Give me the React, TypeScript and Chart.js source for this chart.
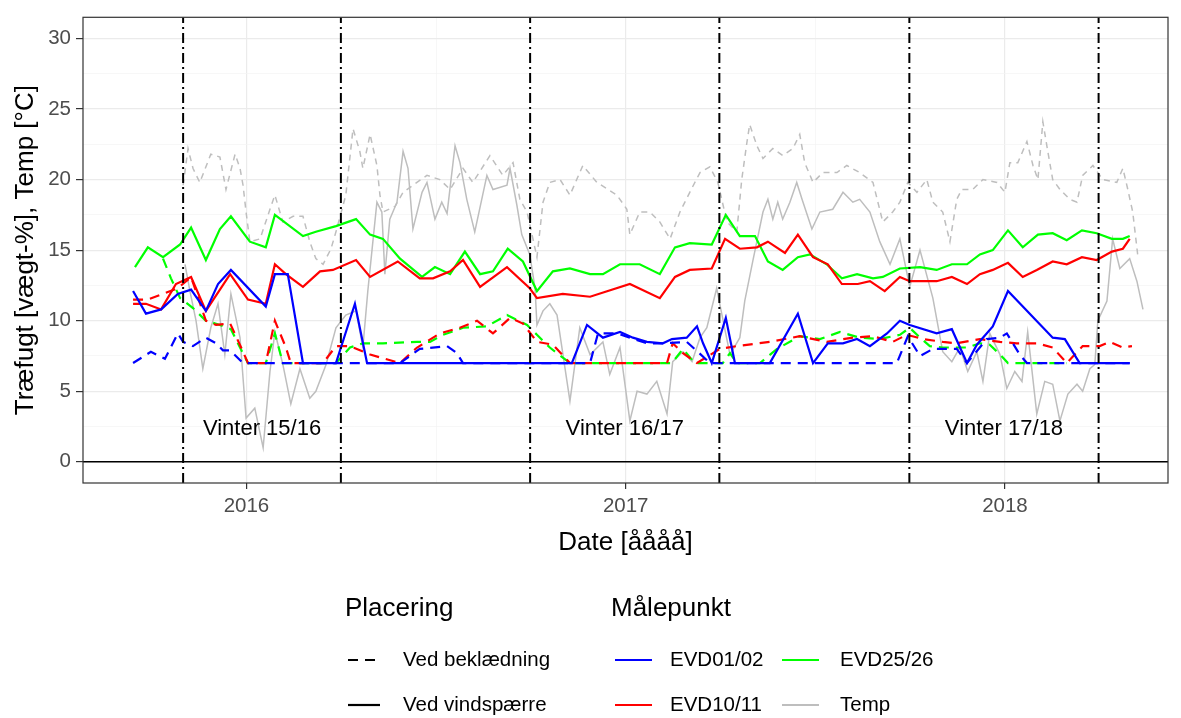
import React, { useEffect, useRef } from 'react';
import { Chart, registerables } from 'chart.js';

Chart.register(...registerables);

const FONT = '"Liberation Sans", Arial, Helvetica, sans-serif';

// ---------- axis / annotation data ----------
const xMin = 2015.569;
const xMax = 2018.43;
const yMin = -1.5;
const yMax = 31.5;
const xMajorTicks = [2016, 2017, 2018];
const xMinorTicks = [2016.5, 2017.5];
const yMajorTicks = [0, 5, 10, 15, 20, 25, 30];
const yMinorTicks = [2.5, 7.5, 12.5, 17.5, 22.5, 27.5];

const winterStart = [2015.833, 2016.748, 2017.748];
const winterEnd = [2016.249, 2017.247, 2018.247];
const winterLabels = ['Vinter 15/16', 'Vinter 16/17', 'Vinter 17/18'];
const winterLabelY = 2.3;

const xTitle = 'Date [åååå]';
const yTitle = 'Træfugt [vægt-%], Temp [°C]';
const placeringTitle = 'Placering';
const placeringLabels = ['Ved beklædning', 'Ved vindspærre'];
const maalepunktTitle = 'Målepunkt';
const maalepunktLabels = ['EVD01/02', 'EVD10/11', 'EVD25/26', 'Temp'];
const maalepunktColors = ['#0000FF', '#FF0000', '#00FF00', '#BEBEBE'];

// ---------- series data (decimal year, value) ----------
// EVD01/02 - Ved vindspærre
const evd0102VindX = [2015.701, 2015.735, 2015.775, 2015.819, 2015.854, 2015.893, 2015.925, 2015.959, 2016.051, 2016.075,
  2016.109, 2016.149, 2016.236, 2016.286, 2016.318, 2016.858, 2016.898, 2016.940, 2016.985, 2017.019,
  2017.056, 2017.098, 2017.122, 2017.161, 2017.188, 2017.204, 2017.227, 2017.264, 2017.288, 2017.380,
  2017.454, 2017.494, 2017.533, 2017.573, 2017.610, 2017.644, 2017.689, 2017.723, 2017.749, 2017.820,
  2017.860, 2017.900, 2017.926, 2017.968, 2018.008, 2018.126, 2018.158, 2018.197, 2018.329];
const evd0102VindY = [12.1, 10.5, 10.8, 11.9, 12.2, 10.7, 12.6, 13.6, 11.0, 13.3,
  13.3, 7, 7, 11.2, 7, 7, 9.7, 8.8, 9.2, 8.8,
  8.5, 8.4, 8.7, 8.8, 9.6, 8.4, 7, 10.2, 7, 7,
  10.5, 7, 8.4, 8.4, 8.7, 8.2, 9.1, 10.0, 9.7, 9.1,
  9.4, 7, 8.3, 9.6, 12.1, 8.8, 8.7, 7, 7];

// EVD01/02 - Ved beklædning
const evd0102BeklX = [2015.701, 2015.748, 2015.785, 2015.819, 2015.833, 2015.859, 2015.893, 2015.920, 2015.938, 2015.957,
  2015.991, 2016.405, 2016.457, 2016.529, 2016.555, 2016.571, 2016.906, 2016.927, 2016.977, 2017.011,
  2017.056, 2017.098, 2017.161, 2017.190, 2017.222, 2017.715, 2017.744, 2017.776, 2017.810, 2017.873,
  2017.900, 2017.952, 2017.987, 2018.005, 2018.039, 2018.058, 2018.329];
const evd0102BeklY = [7, 7.8, 7.3, 9.1, 8.5, 8.2, 8.8, 8.4, 7.9, 7.9,
  7, 7, 8.0, 8.2, 7.7, 7, 7, 9.1, 9.1, 8.8,
  8.4, 8.4, 8.5, 7.8, 7, 7, 8.9, 7.5, 8.0, 8.0,
  7, 8.7, 8.8, 9.1, 7.6, 7, 7];

// EVD10/11 - Ved vindspærre
const evd1011VindX = [2015.701, 2015.735, 2015.775, 2015.814, 2015.854, 2015.893, 2015.957,
  2016.004, 2016.051, 2016.075, 2016.104, 2016.149, 2016.194, 2016.228, 2016.289, 2016.326, 2016.399,
  2016.457, 2016.492, 2016.537, 2016.571, 2016.616, 2016.687, 2016.747, 2016.766, 2016.834, 2016.906,
  2017.011, 2017.090, 2017.130, 2017.169, 2017.227, 2017.262, 2017.301, 2017.346, 2017.375, 2017.420,
  2017.454, 2017.494, 2017.533, 2017.570, 2017.612, 2017.644, 2017.683, 2017.723, 2017.749, 2017.820,
  2017.860, 2017.900, 2017.934, 2017.968,
  2018.008, 2018.047, 2018.084, 2018.126, 2018.163, 2018.203, 2018.242, 2018.282, 2018.311, 2018.329];
const evd1011VindY = [11.2, 11.2, 10.8, 12.6, 13.1, 10.7, 13.3,
  11.5, 11.2, 14.0, 13.3, 12.4, 13.5, 13.6, 14.3, 13.1, 14.2,
  13.0, 13.0, 13.5, 14.3, 12.4, 13.8, 12.3, 11.6, 11.9, 11.7,
  12.6, 11.6, 13.1, 13.6, 13.7, 15.8, 15.1, 15.2, 15.6, 14.8,
  16.1, 14.5, 14.0, 12.6, 12.6, 12.8, 12.1, 13.1, 12.8, 12.8,
  13.1, 12.6, 13.3, 13.6,
  14.1, 13.1, 13.6, 14.2, 14.0, 14.5, 14.3, 14.9, 15.1, 15.8];

// EVD10/11 - Ved beklædning
const evd1011BeklX = [2015.701, 2015.740, 2015.780, 2015.819, 2015.854, 2015.893, 2015.920, 2015.957, 2015.986,
  2016.004, 2016.051, 2016.075, 2016.104, 2016.117, 2016.202, 2016.236, 2016.273, 2016.326, 2016.405,
  2016.450, 2016.510, 2016.563, 2016.608, 2016.650, 2016.695, 2016.729, 2016.766, 2016.808, 2016.853,
  2017.109, 2017.124, 2017.151, 2017.188, 2017.248, 2017.293, 2017.380, 2017.459, 2017.530, 2017.599,
  2017.652, 2017.704, 2017.741, 2017.784, 2017.836, 2017.873, 2017.934, 2017.987,
  2018.031, 2018.084, 2018.126, 2018.163, 2018.205, 2018.250, 2018.277, 2018.311, 2018.335];
const evd1011BeklY = [11.5, 11.5, 11.9, 12.3, 13.1, 10.0, 9.7, 9.8, 8.1,
  7, 7, 10.0, 8.1, 7, 7, 8.2, 8.2, 7.6, 7,
  8.1, 9.1, 9.5, 10.0, 9.1, 10.2, 9.8, 8.5, 8.3, 7,
  7, 8.4, 7.7, 7, 8.0, 8.2, 8.5, 8.9, 8.5, 8.8,
  8.9, 8.5, 9.0, 8.7, 8.5, 8.4, 8.7, 8.5,
  8.4, 8.4, 8.1, 7, 8.2, 8.2, 8.5, 8.1, 8.2];

// EVD25/26 - Ved vindspærre
const evd2526VindX = [2015.706, 2015.740, 2015.780, 2015.825, 2015.854, 2015.893, 2015.930, 2015.959,
  2016.009, 2016.051, 2016.075, 2016.149, 2016.183, 2016.236, 2016.289, 2016.326, 2016.360, 2016.405,
  2016.463, 2016.497, 2016.537, 2016.576, 2016.616, 2016.650, 2016.689, 2016.729, 2016.766, 2016.808,
  2016.853, 2016.906, 2016.940, 2016.985,
  2017.037, 2017.090, 2017.130, 2017.169, 2017.227, 2017.264, 2017.301, 2017.341, 2017.375, 2017.414,
  2017.454, 2017.486, 2017.530, 2017.570, 2017.610, 2017.652, 2017.678, 2017.723, 2017.776, 2017.820,
  2017.860, 2017.900, 2017.934, 2017.968,
  2018.008, 2018.047, 2018.087, 2018.126, 2018.163, 2018.203, 2018.242, 2018.282, 2018.311, 2018.329];
const evd2526VindY = [13.8, 15.2, 14.5, 15.4, 16.6, 14.3, 16.5, 17.4,
  15.6, 15.2, 17.5, 16.0, 16.3, 16.7, 17.2, 16.1, 15.8, 14.4,
  13.1, 13.8, 13.3, 14.9, 13.3, 13.5, 15.1, 14.2, 12.1, 13.5,
  13.7, 13.3, 13.3, 14.0,
  14.0, 13.3, 15.2, 15.5, 15.4, 17.5, 16.0, 16.0, 14.2, 13.6,
  14.5, 14.7, 14.0, 13.0, 13.3, 13.0, 13.1, 13.7, 13.8, 13.6,
  14.0, 14.0, 14.7, 15.0,
  16.4, 15.2, 16.1, 16.2, 15.7, 16.4, 16.2, 15.8, 15.8, 16.0];

// EVD25/26 - Ved beklædning
const evd2526BeklX = [2015.780, 2015.801, 2015.825, 2015.859, 2015.893, 2015.930, 2015.959, 2015.983,
  2016.004, 2016.051, 2016.075, 2016.096, 2016.236, 2016.273, 2016.307, 2016.360, 2016.450,
  2016.484, 2016.518, 2016.571, 2016.634, 2016.687, 2016.740, 2016.766, 2016.800, 2016.853,
  2017.122, 2017.151, 2017.182, 2017.256, 2017.275, 2017.293, 2017.354, 2017.399, 2017.459, 2017.512,
  2017.565, 2017.617, 2017.670, 2017.723, 2017.749, 2017.776, 2017.802, 2017.836, 2017.900, 2017.934,
  2017.960, 2017.987, 2018.008, 2018.163];
const evd2526BeklY = [14.4, 13.0, 11.6, 10.9, 10.0, 9.7, 9.4, 8.1,
  7, 7, 9.1, 7, 7, 8.1, 8.4, 8.4, 8.5,
  8.5, 9.0, 9.5, 9.6, 10.4, 9.7, 9.0, 8.1, 7,
  7, 8.0, 7, 7, 7.7, 7, 7, 8.0, 8.9, 8.7,
  9.2, 8.8, 8.7, 9.0, 9.5, 8.8, 8.2, 8.1, 8.1, 8.4,
  8.3, 7.6, 7, 7];

// Temp - Ved vindspærre
const tempVindX = [2015.838, 2015.851, 2015.867, 2015.885, 2015.906, 2015.925, 2015.943, 2015.959, 2015.983, 2015.999,
  2016.022, 2016.044, 2016.062, 2016.075, 2016.096, 2016.117, 2016.141, 2016.167, 2016.183, 2016.210,
  2016.236, 2016.262, 2016.289, 2016.307, 2016.320, 2016.344, 2016.357, 2016.365, 2016.378, 2016.397,
  2016.413, 2016.426, 2016.439, 2016.463, 2016.476, 2016.497, 2016.515, 2016.529, 2016.550, 2016.563,
  2016.581, 2016.602, 2016.634, 2016.650, 2016.687, 2016.695, 2016.713, 2016.726, 2016.747, 2016.761,
  2016.766, 2016.782, 2016.800, 2016.819, 2016.853, 2016.879, 2016.906, 2016.940, 2016.958, 2016.985,
  2017.011, 2017.030, 2017.056, 2017.082, 2017.109, 2017.124, 2017.151, 2017.175, 2017.196, 2017.214,
  2017.240, 2017.248, 2017.275, 2017.301, 2017.314, 2017.335, 2017.362, 2017.375, 2017.388, 2017.401,
  2017.414, 2017.433, 2017.451, 2017.465, 2017.491, 2017.512, 2017.546, 2017.573, 2017.599, 2017.617,
  2017.644, 2017.670, 2017.697, 2017.723, 2017.749, 2017.776, 2017.810, 2017.836, 2017.860, 2017.881,
  2017.902, 2017.926, 2017.942, 2017.960, 2017.987, 2018.005, 2018.026, 2018.045, 2018.060, 2018.084,
  2018.105, 2018.126, 2018.145, 2018.166, 2018.190, 2018.205, 2018.224, 2018.237, 2018.245, 2018.269,
  2018.284, 2018.303, 2018.329, 2018.348, 2018.364];
const tempVindY = [14.0, 12.1, 10.0, 6.6, 9.5, 11.2, 7.6, 11.9, 8.8, 3.1,
  3.8, 1.0, 6.4, 9.2, 6.9, 4.1, 6.6, 4.5, 5.0, 6.9,
  9.5, 10.4, 10.7, 8.1, 12.1, 18.4, 17.7, 13.3, 17.2, 18.4,
  22.0, 20.8, 16.5, 19.1, 19.8, 17.2, 18.4, 17.6, 22.4, 21.2,
  18.6, 16.3, 20.3, 19.3, 19.6, 20.8, 18.2, 16.1, 14.7, 12.3,
  9.7, 10.7, 11.2, 10.4, 4.3, 9.5, 7.6, 8.5, 6.2, 8.1,
  2.9, 5.0, 4.8, 5.7, 3.4, 7.1, 7.8, 7.1, 8.8, 9.5,
  12.3, 11.2, 7.6, 8.8, 11.4, 14.2, 17.7, 18.6, 17.2, 18.4,
  17.2, 18.4, 19.8, 18.6, 16.5, 17.7, 17.9, 19.1, 18.4, 18.6,
  17.7, 15.6, 14.0, 15.8, 12.4, 15.0, 11.6, 7.8, 7.1, 8.1,
  6.4, 7.8, 5.7, 9.1, 7.6, 5.2, 6.4, 5.7, 9.2, 3.4,
  5.7, 5.5, 2.9, 4.8, 5.5, 5.0, 6.6, 6.9, 10.0, 11.4,
  15.8, 13.7, 14.4, 12.8, 10.8];

// Temp - Ved beklædning
const tempBeklX = [2015.833, 2015.846, 2015.859, 2015.877, 2015.906, 2015.930, 2015.946, 2015.970, 2015.983, 2015.991,
  2015.999, 2016.009, 2016.036, 2016.062, 2016.075, 2016.096, 2016.123, 2016.149, 2016.167, 2016.183,
  2016.202, 2016.223, 2016.236, 2016.262, 2016.281, 2016.299, 2016.307, 2016.326, 2016.344, 2016.352,
  2016.360, 2016.392, 2016.413, 2016.439, 2016.476, 2016.510, 2016.537, 2016.571, 2016.597, 2016.642,
  2016.676, 2016.703, 2016.721, 2016.740, 2016.766, 2016.782, 2016.800, 2016.827, 2016.853, 2016.887,
  2016.924, 2016.977, 2017.003, 2017.011, 2017.037, 2017.064, 2017.090, 2017.117, 2017.143, 2017.169,
  2017.196, 2017.222, 2017.243, 2017.267, 2017.293, 2017.306, 2017.320, 2017.327, 2017.346, 2017.362,
  2017.388, 2017.414, 2017.441, 2017.459, 2017.472, 2017.494, 2017.520, 2017.557, 2017.583, 2017.617,
  2017.652, 2017.678, 2017.704, 2017.723, 2017.744, 2017.768, 2017.794, 2017.810, 2017.836, 2017.855,
  2017.873, 2017.886, 2017.915, 2017.942, 2017.979, 2018.000, 2018.013, 2018.034, 2018.058, 2018.074,
  2018.087, 2018.100, 2018.113, 2018.126, 2018.145, 2018.171, 2018.190, 2018.205, 2018.232, 2018.258,
  2018.295, 2018.311, 2018.324, 2018.337, 2018.350];
const tempBeklY = [19.6, 22.2, 20.8, 19.8, 21.8, 21.6, 19.3, 21.8, 20.8, 19.6,
  17.7, 15.6, 15.8, 17.9, 18.9, 17.0, 17.4, 17.4, 15.6, 14.4,
  14.0, 15.1, 16.3, 18.9, 23.6, 22.0, 20.8, 23.2, 21.0, 18.9,
  17.7, 18.1, 19.1, 19.6, 20.3, 20.0, 19.3, 20.8, 19.8, 21.7,
  20.3, 21.2, 18.6, 17.7, 14.5, 18.4, 19.8, 20.0, 18.9, 21.0,
  19.8, 18.9, 17.9, 16.1, 17.7, 17.7, 17.0, 15.8, 17.7, 19.1,
  20.5, 20.9, 19.8, 17.0, 16.3, 20.0, 22.7, 23.9, 22.4, 21.5,
  22.2, 21.7, 22.2, 23.2, 21.2, 19.8, 20.5, 20.5, 21.0, 20.5,
  19.8, 17.0, 17.7, 18.4, 19.8, 19.1, 20.0, 18.4, 17.7, 15.6,
  18.6, 19.3, 19.3, 20.0, 19.8, 19.1, 21.2, 21.2, 22.7, 21.0,
  20.0, 24.1, 22.0, 20.0, 19.3, 18.6, 18.4, 20.3, 21.0, 20.0,
  19.8, 20.8, 19.3, 17.7, 14.7];

// ---------- helpers ----------
const zip = (xs: number[], ys: number[]) => xs.map((x, i) => ({ x, y: ys[i] }));
const isMajorX = (v: number) => xMajorTicks.includes(v);
const isMajorY = (v: number) => yMajorTicks.includes(v);

const DASH = [10, 7];
const DASH_THIN = [6, 5];
const DASHDOT = [10, 4, 2, 4];

const panelPlugin = {
  id: 'panelDecor',
  afterDatasetsDraw(chart: any) {
    const { ctx, scales } = chart;
    ctx.save();
    ctx.fillStyle = '#000';
    ctx.font = `22px ${FONT}`;
    ctx.textAlign = 'center';
    ctx.textBaseline = 'middle';
    winterLabels.forEach((lab, i) => {
      const mid = (winterStart[i] + winterEnd[i]) / 2;
      ctx.fillText(lab, scales.x.getPixelForValue(mid), scales.y.getPixelForValue(winterLabelY));
    });
    ctx.restore();
  },
  afterDraw(chart: any) {
    const { ctx, chartArea } = chart;
    ctx.save();
    ctx.strokeStyle = '#333333';
    ctx.lineWidth = 1.2;
    ctx.strokeRect(chartArea.left, chartArea.top, chartArea.right - chartArea.left, chartArea.bottom - chartArea.top);

    // legend
    ctx.fillStyle = '#000';
    ctx.textAlign = 'left';
    ctx.textBaseline = 'middle';
    ctx.font = `26px ${FONT}`;
    ctx.fillText(placeringTitle, 345, 609);
    ctx.fillText(maalepunktTitle, 611, 609);
    ctx.font = `20.5px ${FONT}`;
    const rows = [660, 705];
    placeringLabels.forEach((lab, i) => {
      const y = rows[i];
      ctx.strokeStyle = '#000';
      ctx.lineWidth = 2.2;
      ctx.setLineDash(i === 0 ? DASH : []);
      ctx.beginPath();
      ctx.moveTo(348, y);
      ctx.lineTo(380, y);
      ctx.stroke();
      ctx.setLineDash([]);
      ctx.fillText(lab, 403, y);
    });
    const cols = [{ kx: 615, tx: 670 }, { kx: 782, tx: 840 }];
    maalepunktLabels.forEach((lab, i) => {
      const col = cols[Math.floor(i / 2)];
      const y = rows[i % 2];
      ctx.strokeStyle = maalepunktColors[i];
      ctx.lineWidth = 2.2;
      ctx.beginPath();
      ctx.moveTo(col.kx, y);
      ctx.lineTo(col.kx + 37, y);
      ctx.stroke();
      ctx.fillText(lab, col.tx, y);
    });
    ctx.restore();
  },
};

function series(label: string, xs: number[], ys: number[], color: string, dashed: boolean, width: number, order: number, dash = DASH) {
  return {
    label,
    data: zip(xs, ys),
    borderColor: color,
    backgroundColor: color,
    borderWidth: width,
    borderDash: dashed ? dash : [],
    pointRadius: 0,
    tension: 0,
    fill: false,
    order,
  };
}

export default function App() {
  const canvasRef = useRef<HTMLCanvasElement | null>(null);

  useEffect(() => {
    if (!canvasRef.current) return;
    const vlineSets = [...winterStart, ...winterEnd].map((v, i) => ({
      label: 'vline' + i,
      data: [{ x: v, y: yMin }, { x: v, y: yMax }],
      borderColor: '#000',
      borderWidth: 2,
      borderDash: DASHDOT,
      pointRadius: 0,
      fill: false,
      order: 0,
    }));
    const zeroLine = {
      label: 'zero',
      data: [{ x: xMin, y: 0 }, { x: xMax, y: 0 }],
      borderColor: '#000',
      borderWidth: 1.5,
      pointRadius: 0,
      fill: false,
      order: 0,
    };

    const chart = new Chart(canvasRef.current, {
      type: 'line',
      data: {
        datasets: [
          ...vlineSets,
          zeroLine,
          series('EVD01/02 vind', evd0102VindX, evd0102VindY, '#0000FF', false, 2.2, 1),
          series('EVD01/02 bekl', evd0102BeklX, evd0102BeklY, '#0000FF', true, 2.2, 2),
          series('EVD10/11 vind', evd1011VindX, evd1011VindY, '#FF0000', false, 2.2, 3),
          series('EVD10/11 bekl', evd1011BeklX, evd1011BeklY, '#FF0000', true, 2.2, 4),
          series('EVD25/26 vind', evd2526VindX, evd2526VindY, '#00FF00', false, 2.2, 5),
          series('EVD25/26 bekl', evd2526BeklX, evd2526BeklY, '#00FF00', true, 2.2, 6),
          series('Temp vind', tempVindX, tempVindY, '#BEBEBE', false, 1.5, 7),
          series('Temp bekl', tempBeklX, tempBeklY, '#BEBEBE', true, 1.5, 8, DASH_THIN),
        ] as any,
      },
      options: {
        responsive: false,
        animation: false,
        devicePixelRatio: 1,
        events: [],
        layout: { padding: { top: 15, right: 13, left: 0, bottom: 160 } },
        plugins: { legend: { display: false }, tooltip: { enabled: false }, title: { display: false } },
        scales: {
          x: {
            type: 'linear',
            min: xMin,
            max: xMax,
            afterBuildTicks: (axis: any) => {
              axis.ticks = [...xMajorTicks, ...xMinorTicks].sort((a, b) => a - b).map((v) => ({ value: v }));
            },
            afterFit: (s: any) => { s.height = 75; },
            ticks: {
              autoSkip: false,
              maxRotation: 0,
              padding: 5,
              color: '#4D4D4D',
              font: { size: 20.5, family: FONT },
              callback: (v: any) => (isMajorX(Number(v)) ? String(v) : ''),
            },
            grid: {
              color: (c: any) => (isMajorX(c.tick?.value) ? '#EBEBEB' : '#F4F4F4'),
              lineWidth: (c: any) => (isMajorX(c.tick?.value) ? 1.2 : 0.7),
              tickColor: (c: any) => (isMajorX(c.tick?.value) ? '#333333' : 'rgba(0,0,0,0)'),
              tickLength: 6,
              tickWidth: 1.2,
            },
            border: { display: false },
            title: { display: true, text: xTitle, color: '#000', font: { size: 26, family: FONT }, padding: { top: 0, bottom: 0 } },
          },
          y: {
            type: 'linear',
            min: yMin,
            max: yMax,
            afterBuildTicks: (axis: any) => {
              axis.ticks = [...yMajorTicks, ...yMinorTicks].sort((a, b) => a - b).map((v) => ({ value: v }));
            },
            afterFit: (s: any) => { s.width = 83; },
            ticks: {
              autoSkip: false,
              padding: 5,
              color: '#4D4D4D',
              font: { size: 20.5, family: FONT },
              callback: (v: any) => (isMajorY(Number(v)) ? String(v) : ''),
            },
            grid: {
              color: (c: any) => (isMajorY(c.tick?.value) ? '#EBEBEB' : '#F4F4F4'),
              lineWidth: (c: any) => (isMajorY(c.tick?.value) ? 1.2 : 0.7),
              tickColor: (c: any) => (isMajorY(c.tick?.value) ? '#333333' : 'rgba(0,0,0,0)'),
              tickLength: 7,
              tickWidth: 1.2,
            },
            border: { display: false },
            title: { display: true, text: yTitle, color: '#000', font: { size: 26, family: FONT }, padding: { top: 10, bottom: 0 } },
          },
        },
      } as any,
      plugins: [panelPlugin],
    });
    return () => chart.destroy();
  }, []);

  return (
    <div style={{ position: 'absolute', left: 0, top: 0, width: 1181, height: 718, background: '#fff' }}>
      <canvas ref={canvasRef} width={1181} height={718} style={{ display: 'block' }} />
    </div>
  );
}
